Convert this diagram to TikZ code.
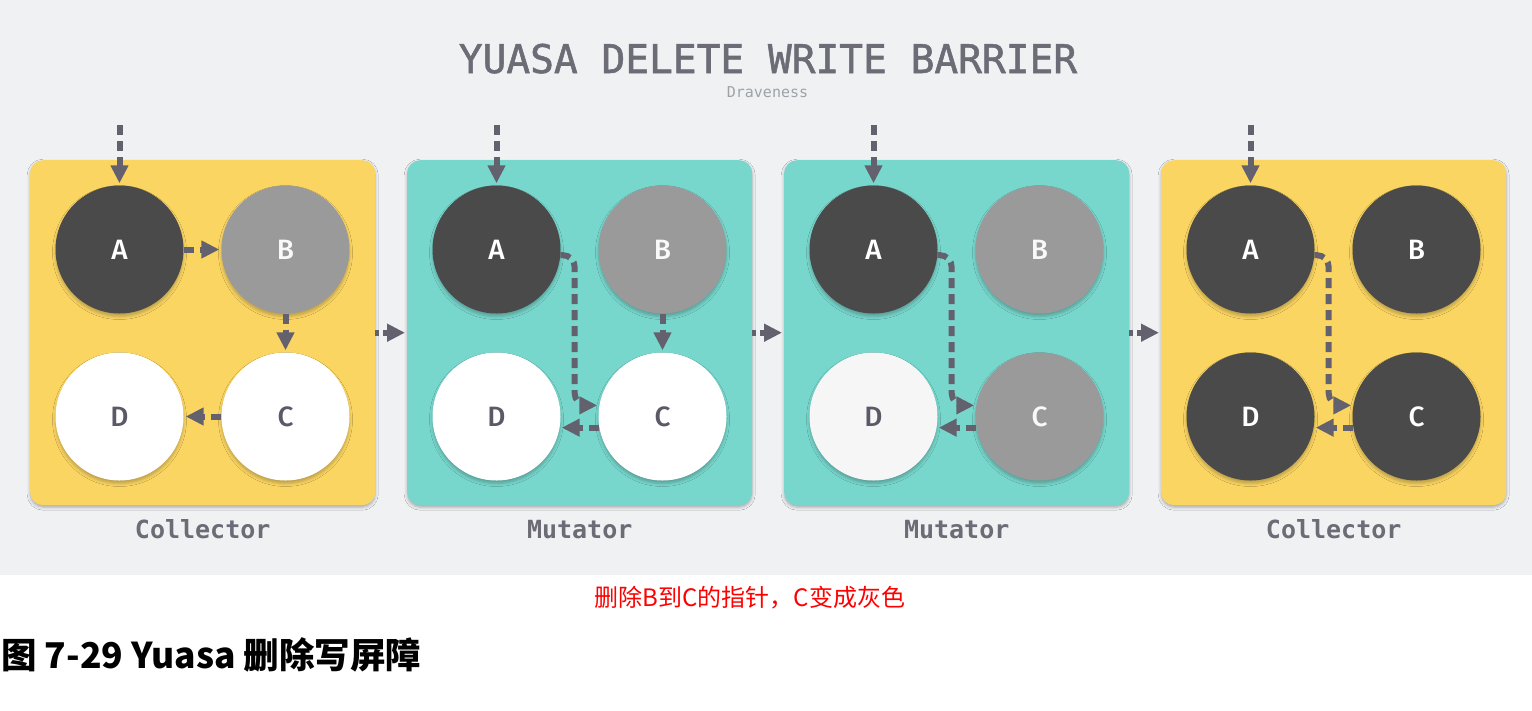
\documentclass[tikz,border=0pt]{standalone}
\usepackage{fontspec}
\setmainfont{DejaVu Sans}
\newfontfamily\monofont{DejaVu Sans Mono}
\newfontfamily\monomed{DejaVu Sans Mono}[FakeBold=1.3]
\newfontfamily\cjkfont{Noto Sans CJK SC}
\newfontfamily\circfont{Fira Sans}[UprightFont={* Medium}]
\usetikzlibrary{arrows.meta,shadows.blur,calc}
\definecolor{bgc}{HTML}{F0F1F3}
\definecolor{yelc}{HTML}{FBD562}
\definecolor{tealc}{HTML}{78D7CD}
\definecolor{blkc}{HTML}{4A4A4A}
\definecolor{gryc}{HTML}{9A9A9A}
\definecolor{arrc}{HTML}{63616E}
\definecolor{titlec}{HTML}{6C6B76}
\definecolor{subc}{HTML}{9CA3A8}
\definecolor{ltxt}{HTML}{5B5967}
\begin{document}
\begin{tikzpicture}[x=1pt,y=-1pt,
  panel/.style={rounded corners=13pt, minimum width=345pt, minimum height=345pt, inner sep=0pt, anchor=north west,
    blur shadow={shadow xshift=0pt, shadow yshift=-2pt, shadow blur radius=3pt, shadow opacity=30}},
  plabel/.style={font=\monofont\bfseries\fontsize{25}{25}\selectfont, text=titlec, anchor=base},
  circ/.style={circle, minimum size=128pt, inner sep=0pt, font=\circfont\fontsize{28}{28}\selectfont,
    blur shadow={shadow xshift=0pt, shadow yshift=-3pt, shadow blur radius=3pt, shadow opacity=25}},
  dk/.style={circ, fill=blkc, text=white},
  gr/.style={circ, fill=gryc, text=white!95!gray},
  wh/.style={circ, fill=white, text=ltxt},
  lt/.style={circ, fill=white!93!gray, text=ltxt},
  ptr/.style={draw=arrc, line width=6pt, dash pattern=on 10pt off 6pt, shorten >=2pt,
    -{Triangle[length=18pt,width=17pt]}},
  link/.style={ptr, dash pattern=on 4pt off 4pt}
]
\useasboundingbox (0,0) rectangle (1532,710);
\fill[white] (0,0) rectangle (1532,710);
\fill[bgc] (0,0) rectangle (1532,575);

\node[font=\monomed\fontsize{39.5}{39.5}\selectfont, text=titlec, anchor=base] (title) at (768,73) {YUASA DELETE WRITE BARRIER};
\node[font=\monofont\fontsize{15}{15}\selectfont, text=subc, anchor=base] (sub) at (767.5,97) {Draveness};

% panels
\node[panel, fill=yelc] (p1) at (30,160) {};
\node[panel, fill=tealc] (p2) at (407,160) {};
\node[panel, fill=tealc] (p3) at (784,160) {};
\node[panel, fill=yelc] (p4) at (1161,160) {};

\node[plabel] (l1) at ($(p1.south)+(0,33)$) {Collector};
\node[plabel] (l2) at ($(p2.south)+(0,33)$) {Mutator};
\node[plabel] (l3) at ($(p3.south)+(0,33)$) {Mutator};
\node[plabel] (l4) at ($(p4.south)+(0,33)$) {Collector};

% links between panels
\draw[link] (p1.east) -- (p2.west);
\draw[link] (p2.east) -- (p3.west);
\draw[link] (p3.east) -- (p4.west);

% panel 1
\node[dk] (p1a) at (119.5,249.5) {A};
\node[gr] (p1b) at (285.5,249.5) {B};
\node[wh] (p1c) at (285.5,416.5) {C};
\node[wh] (p1d) at (119.5,416.5) {D};
% panel 2
\node[dk] (p2a) at (496.5,249.5) {A};
\node[gr] (p2b) at (662.5,249.5) {B};
\node[wh] (p2c) at (662.5,416.5) {C};
\node[wh] (p2d) at (496.5,416.5) {D};
% panel 3
\node[dk] (p3a) at (873.5,249.5) {A};
\node[gr] (p3b) at (1039.5,249.5) {B};
\node[gr] (p3c) at (1039.5,416.5) {C};
\node[lt] (p3d) at (873.5,416.5) {D};
% panel 4
\node[dk] (p4a) at (1250.5,249.5) {A};
\node[dk] (p4b) at (1416.5,249.5) {B};
\node[dk] (p4c) at (1416.5,416.5) {C};
\node[dk] (p4d) at (1250.5,416.5) {D};

% roots
\coordinate (t1) at (119.5,125);
\coordinate (t2) at (496.5,125);
\coordinate (t3) at (873.5,125);
\coordinate (t4) at (1250.5,125);
\draw[ptr] (t1) -- (p1a);
\draw[ptr] (t2) -- (p2a);
\draw[ptr] (t3) -- (p3a);
\draw[ptr] (t4) -- (p4a);

% panel 1 pointers
\draw[ptr] (p1a) -- (p1b);
\draw[ptr] (p1b) -- (p1c);
\draw[ptr] (p1c) -- (p1d);

% panel 2..4 pointers
\foreach \i in {2,3,4}{
  \coordinate (k\i) at ($(p\i a.east)+(14,0)$);
  \draw[ptr, rounded corners=12pt] (p\i a.-5) -| (k\i |- p\i c.170) -- (p\i c.170);
  \draw[ptr] (p\i c.190) -- (p\i d.-10);
}
\draw[ptr] (p2b) -- (p2c);

% captions
\node[font=\cjkfont\fontsize{24}{24}\selectfont, text=red] (cap1) at (750,598) {删除B到C的指针，C变成灰色};
\node[font=\cjkfont\bfseries\fontsize{35.5}{35.5}\selectfont, text=black, anchor=west, inner sep=0pt] (cap2) at (1,655) {图 7-29 Yuasa 删除写屏障};
\end{tikzpicture}
\end{document}
